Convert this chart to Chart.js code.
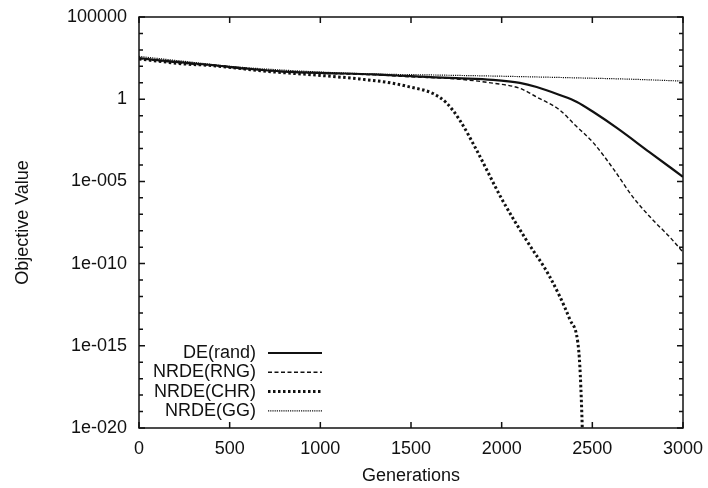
<!DOCTYPE html>
<html>
<head>
<meta charset="utf-8">
<script src="https://cdn.jsdelivr.net/npm/chart.js@4.4.1/dist/chart.umd.min.js"></script>
<style>
  html, body { margin: 0; padding: 0; background: #fff; }
  #wrap { width: 708px; height: 488px; }
</style>
</head>
<body>
<div id="wrap"><canvas id="chart" width="708" height="488"></canvas></div>
<script>
// Values (generation, objective value)
const deGen  = [0, 100, 250, 400, 600, 800, 1000, 1300, 1500, 1750, 1950, 2100, 2193, 2320, 2415, 2506, 2635, 2813, 3000];
const deVal  = [316, 240, 166, 120, 71, 48, 40, 32, 25, 19, 15, 9.8, 5.5, 1.8, 0.68, 0.166, 0.018, 6.3e-4, 1.9e-5];

const rngGen = [0, 250, 500, 800, 1000, 1300, 1500, 1750, 1950, 2100, 2193, 2320, 2400, 2506, 2620, 2724, 2834, 2920, 3000];
const rngVal = [300, 150, 95, 46, 38, 30, 23, 17, 9.5, 4.6, 1.35, 0.22, 0.03, 2.2e-3, 5e-5, 1.1e-6, 4.5e-8, 5e-9, 5e-10];

const chrGen = [0, 250, 400, 700, 1000, 1215, 1397, 1492, 1618, 1696, 1768, 1862, 2002, 2138, 2265, 2376, 2420, 2431, 2442, 2447];
const chrVal = [280, 140, 112, 50, 28, 17, 9.5, 5.6, 2.3, 0.59, 0.055, 7.9e-4, 8e-7, 2.5e-9, 1.6e-11, 4e-14, 1.6e-15, 6e-17, 8e-20, 1e-21];

const ggGen  = [0, 250, 500, 750, 1000, 1300, 1600, 2000, 2400, 2700, 3000];
const ggVal  = [400, 200, 100, 63, 45, 34, 30, 25, 20, 16.6, 12.6];

const xTicks = [0, 500, 1000, 1500, 2000, 2500, 3000];
const yDecades = [5, 4, 3, 2, 1, 0, -1, -2, -3, -4, -5, -6, -7, -8, -9, -10,
                  -11, -12, -13, -14, -15, -16, -17, -18, -19, -20];

const FONT = '"Liberation Sans", Arial, sans-serif';
const INK = '#111';

function pts(gens, vals) {
    return gens.map((g, i) => ({ x: g, y: vals[i] }));
}

function series(label, gens, vals, width, dash) {
    return {
        label: label,
        data: pts(gens, vals),
        borderColor: INK,
        borderWidth: width,
        borderDash: dash,
        pointRadius: 0,
        fill: false,
        cubicInterpolationMode: 'monotone'
    };
}

function yLabel(v) {
    const k = Math.round(Math.log10(v));
    if (k % 5 !== 0) return '';
    if (k === 5) return '100000';
    if (k === 0) return '1';
    return '1e-' + String(-k).padStart(3, '0');
}

// gnuplot style frame with inward ticks on all four sides
const framePlugin = {
    id: 'frame',
    afterDatasetsDraw(chart) {
        const { ctx, chartArea: a, scales } = chart;
        ctx.save();
        ctx.strokeStyle = INK;
        ctx.lineWidth = 1.5;
        ctx.setLineDash([]);
        ctx.strokeRect(a.left, a.top, a.right - a.left, a.bottom - a.top);
        ctx.beginPath();
        xTicks.forEach(t => {
            const px = scales.x.getPixelForValue(t);
            ctx.moveTo(px, a.bottom); ctx.lineTo(px, a.bottom - 6);
            ctx.moveTo(px, a.top); ctx.lineTo(px, a.top + 6);
        });
        yDecades.forEach(k => {
            const py = scales.y.getPixelForValue(Math.pow(10, k));
            const len = k % 5 === 0 ? 6 : 4;
            ctx.moveTo(a.left, py); ctx.lineTo(a.left + len, py);
            ctx.moveTo(a.right, py); ctx.lineTo(a.right - len, py);
        });
        ctx.stroke();
        ctx.restore();
    }
};

// key in the lower left: text right aligned, line sample after it
const keyPlugin = {
    id: 'key',
    afterDraw(chart) {
        const { ctx } = chart;
        const textRight = 256, x0 = 268, x1 = 322, y0 = 353, step = 19.3;
        ctx.save();
        ctx.font = '18px ' + FONT;
        ctx.fillStyle = INK;
        ctx.textAlign = 'right';
        ctx.textBaseline = 'middle';
        chart.data.datasets.forEach((ds, i) => {
            const y = y0 + i * step;
            ctx.fillText(ds.label, textRight, y);
            ctx.beginPath();
            ctx.strokeStyle = ds.borderColor;
            ctx.lineWidth = ds.borderWidth;
            ctx.setLineDash(ds.borderDash || []);
            ctx.moveTo(x0, y); ctx.lineTo(x1, y);
            ctx.stroke();
        });
        ctx.restore();
    }
};

new Chart(document.getElementById('chart').getContext('2d'), {
    type: 'line',
    data: {
        datasets: [
            series('DE(rand)', deGen, deVal, 2.2, []),
            series('NRDE(RNG)', rngGen, rngVal, 1.4, [4, 2.5]),
            series('NRDE(CHR)', chrGen, chrVal, 3, [2.5, 2.5]),
            series('NRDE(GG)', ggGen, ggVal, 1.2, [1.2, 1])
        ]
    },
    options: {
        responsive: false,
        animation: false,
        layout: { padding: { left: 0, right: 25, top: 17, bottom: 0 } },
        plugins: {
            legend: { display: false },
            tooltip: { enabled: false }
        },
        scales: {
            x: {
                type: 'linear',
                min: 0,
                max: 3000,
                grid: { display: false, drawTicks: false },
                border: { display: false },
                afterBuildTicks: scale => { scale.ticks = xTicks.map(v => ({ value: v })); },
                afterFit: scale => {
                    scale.height = 60;
                    scale.paddingLeft = 0;
                    scale.paddingRight = 0;
                },
                ticks: {
                    color: INK,
                    padding: 10,
                    maxRotation: 0,
                    font: { family: FONT, size: 18 },
                    callback: v => String(v)
                },
                title: {
                    display: true,
                    text: 'Generations',
                    color: INK,
                    padding: { top: 4, bottom: 1 },
                    font: { family: FONT, size: 18 }
                }
            },
            y: {
                type: 'logarithmic',
                min: 1e-20,
                max: 1e5,
                grid: { display: false, drawTicks: false },
                border: { display: false },
                afterBuildTicks: scale => { scale.ticks = yDecades.map(k => ({ value: Math.pow(10, k) })); },
                afterFit: scale => {
                    scale.width = 139;
                    scale.paddingTop = 0;
                    scale.paddingBottom = 0;
                },
                ticks: {
                    color: INK,
                    padding: 12,
                    autoSkip: false,
                    font: { family: FONT, size: 18 },
                    callback: v => yLabel(v)
                },
                title: {
                    display: true,
                    text: 'Objective Value',
                    color: INK,
                    padding: { top: 12, bottom: 0 },
                    font: { family: FONT, size: 18 }
                }
            }
        }
    },
    plugins: [framePlugin, keyPlugin]
});
</script>
</body>
</html>
